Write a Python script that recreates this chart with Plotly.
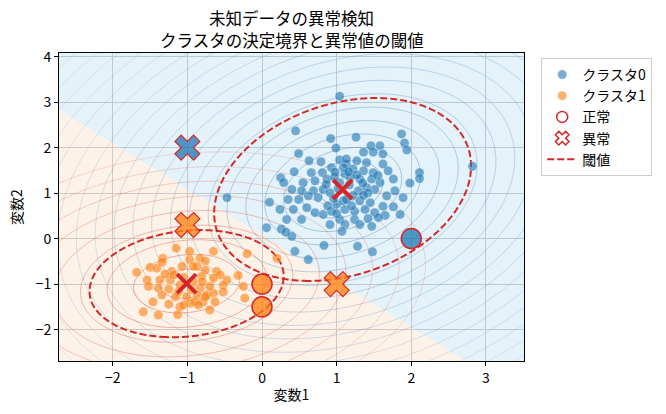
import numpy as np
import plotly.graph_objects as go

# --- samples ---
c0_x = [0.45, 0.92, 0.99, 0.49, 0.63, 0.79, 0.43, 0.66, 0.25, 0.81, 0.93, 1.04, 1.13, 0.29, 0.55,
        0.71, 0.87, 0.40, 0.53, 0.69, 0.82, 0.91, 0.35, 0.49, 0.62, 0.75, 0.10, 0.42, 0.60, 0.71,
        0.82, 0.93, 1.00, 0.24, 0.33, 0.53, 0.91, 1.04, 0.06, 0.26, 0.40, 1.11, 1.04, 1.09, 1.11,
        1.26, 1.87, 1.91, 1.94, 1.46, 1.58, 1.36, 1.49, 1.62, 1.13, 1.27, 1.40, 1.62, 1.09, 1.22,
        1.36, 1.49, 1.69, 1.76, 2.11, 2.11, 1.98, 1.18, 1.31, 1.47, 1.58, 1.51, 1.40, 1.29, 1.67,
        1.78, 1.89, 1.13, 1.31, 1.45, 1.62, 1.76, 1.11, 1.24, 1.38, 1.51, 1.65, 1.85, 1.24, 1.42,
        1.56, 1.31, 1.47, 1.07, 1.04, -0.47, 2.82, 0.32, 0.44, 0.62, 0.83, 1.28, 1.48, 0.97,
        1.02, 1.17, 1.22, 0.96, 1.35, 1.16, 0.98, 1.27, 1.42, 0.86, 1.20, 0.88, 1.00, 1.55, 1.36]
c0_y = [2.37, 2.20, 1.99, 1.87, 1.71, 1.69, 1.47, 1.45, 1.34, 1.45, 1.56, 1.73, 1.64, 1.23, 1.23,
        1.27, 1.31, 1.08, 1.05, 1.05, 1.08, 1.01, 0.86, 0.86, 0.94, 0.90, 0.80, 0.64, 0.68, 0.57,
        0.53, 0.60, 0.75, 0.64, 0.42, 0.42, 0.31, 0.42, 0.24, 0.21, 0.05, 0.31, 1.23, 0.83, 1.42,
        2.23, 2.30, 2.10, 1.95, 2.04, 2.04, 1.90, 1.90, 1.86, 1.75, 1.71, 1.67, 1.64, 1.56, 1.53,
        1.49, 1.45, 1.49, 1.31, 1.45, 1.32, 1.22, 1.34, 1.31, 1.31, 1.23, 1.08, 1.12, 1.05, 0.94,
        1.05, 0.90, 0.86, 0.83, 0.79, 0.71, 0.70, 0.64, 0.60, 0.64, 0.57, 0.51, 0.53, 0.42, 0.44,
        0.46, 0.31, 0.27, 0.16, 3.13, 0.90, 1.59, 0.14, -0.28, -0.46, -0.15, -0.17, -0.29, 1.36,
        1.10, 1.18, 0.95, 0.88, 1.22, 1.47, 1.46, 1.40, 1.00, 1.19, 0.72, 0.72, 0.55, 1.39, 0.95]

c1_x = [-1.15, -0.97, -1.33, -0.97, -0.83, -1.50, -1.41, -1.68, -1.34, -1.21, -1.07, -0.87, -1.54,
        -1.37, -1.23, -1.52, -1.39, -1.25, -1.12, -0.83, -1.34, -1.16, -1.01, -0.87, -1.46, -1.25,
        -1.10, -0.96, -0.79, -1.59, -1.39, -1.13, -0.74, -0.65, -0.20, 0.20, -0.76, -0.92, -0.76,
        -0.61, -0.56, -0.32, -0.81, -0.65, -0.47, -0.52, -0.25, -0.65, -0.52, -0.76, -0.63, -0.23,
        -0.90, -1.05, -0.70, -0.85, -1.05, -0.92, -1.10, -0.95, -0.80, -1.18, -0.70, -1.30]
c1_y = [-0.21, -0.28, -0.43, -0.46, -0.43, -0.63, -0.65, -0.74, -0.52, -0.72, -0.61, -0.61, -0.91,
        -0.91, -0.91, -1.05, -1.09, -1.11, -1.17, -1.09, -1.24, -1.28, -1.28, -1.24, -1.39, -1.44,
        -1.50, -1.42, -1.39, -1.61, -1.68, -1.67, -1.24, -0.28, -0.33, -0.43, -0.49, -0.61, -0.69,
        -0.72, -0.80, -0.81, -0.83, -0.87, -0.91, -1.02, -1.05, -1.20, -1.17, -1.28, -1.39, -1.31,
        -1.39, -1.46, -1.57, -1.46, -0.85, -0.95, -1.02, -1.12, -0.95, -0.80, -1.05, -0.78]

# cluster model
center_x = [1.08, -1.01]
center_y = [1.08, -0.99]
cov_xx = [0.329, 0.188]
cov_xy = [0.099, 0.024]
cov_yy = [0.449, 0.154]
threshold = 3.0

# new (unknown) data
new_x = [2.0, 0.0, 0.0, -1.0, -1.0, 1.0]
new_y = [0.0, -1.0, -1.5, 2.0, 0.3, -1.0]

x_range = [-2.72, 3.51]
y_range = [-2.69, 4.08]

BLUE = "#1f77b4"
ORANGE = "#ff7f0e"
RED = "#d62728"
FONT = "Noto Sans CJK JP"


def mahalanobis(k, x, y):
    dx = np.asarray(x) - center_x[k]
    dy = np.asarray(y) - center_y[k]
    det = cov_xx[k] * cov_yy[k] - cov_xy[k] ** 2
    d2 = (cov_yy[k] * dx**2 - 2 * cov_xy[k] * dx * dy + cov_xx[k] * dy**2) / det
    return np.sqrt(d2)


def nearest(x, y):
    d = [(np.asarray(x) - center_x[k]) ** 2 + (np.asarray(y) - center_y[k]) ** 2 for k in range(2)]
    return np.argmin(d, axis=0)


gx = np.linspace(x_range[0], x_range[1], 400)
gy = np.linspace(y_range[0], y_range[1], 320)
GX, GY = np.meshgrid(gx, gy)

fig = go.Figure()

# decision regions
fig.add_trace(
    go.Heatmap(
        x=gx, y=gy, z=nearest(GX, GY),
        colorscale=[[0, "rgb(210,234,245)"], [1, "rgb(252,234,215)"]],
        zmin=0, zmax=1, showscale=False, opacity=0.6, hoverinfo="skip",
        showlegend=False,
    )
)

# distance rings
ring_styles = [
    (0, 0.5, 14, 0.44, [[0, "rgba(40,100,170,0.55)"], [1, "rgba(130,170,205,0.3)"]]),
    (1, 0.82, 7.4, 0.82, [[0, "rgba(214,39,40,0.6)"], [1, "rgba(225,110,100,0.35)"]]),
]
for k, start, end, size, cs in ring_styles:
    fig.add_trace(
        go.Contour(
            x=gx, y=gy, z=mahalanobis(k, GX, GY),
            contours=dict(start=start, end=end, size=size, coloring="lines"),
            colorscale=cs, zmin=start, zmax=8, zauto=False,
            line=dict(width=0.7), showscale=False, hoverinfo="skip",
            showlegend=False,
        )
    )

# threshold ellipses
for k in range(2):
    fig.add_trace(
        go.Contour(
            x=gx, y=gy, z=mahalanobis(k, GX, GY),
            contours=dict(start=threshold, end=threshold, size=1, coloring="none"),
            line=dict(color=RED, width=2, dash="7px,3px"),
            showscale=False, hoverinfo="skip", showlegend=False,
        )
    )

# cluster samples
fig.add_trace(
    go.Scatter(
        x=c0_x, y=c0_y, mode="markers", name="クラスタ0",
        marker=dict(color=BLUE, size=9.5, opacity=0.6, line=dict(color="white", width=0.5)),
    )
)
fig.add_trace(
    go.Scatter(
        x=c1_x, y=c1_y, mode="markers", name="クラスタ1",
        marker=dict(color=ORANGE, size=9.5, opacity=0.6, line=dict(color="white", width=0.5)),
    )
)

# cluster centers
fig.add_trace(
    go.Scatter(
        x=center_x, y=center_y, mode="markers", showlegend=False,
        marker=dict(symbol="x-thin", size=19, line=dict(width=4, color=RED)),
    )
)

# new data: normal / anomaly
labels = nearest(new_x, new_y)
dist = np.array([mahalanobis(k, x, y) for k, x, y in zip(labels, new_x, new_y)])
fill = np.where(labels == 0, "rgba(31,119,180,0.75)", "rgba(255,127,14,0.75)")
normal = dist <= threshold

fig.add_trace(
    go.Scatter(
        x=np.array(new_x)[normal], y=np.array(new_y)[normal], mode="markers", showlegend=False,
        marker=dict(symbol="circle", size=20, color=fill[normal], line=dict(color=RED, width=1.5)),
    )
)
fig.add_trace(
    go.Scatter(
        x=np.array(new_x)[~normal], y=np.array(new_y)[~normal], mode="markers", showlegend=False,
        marker=dict(symbol="x", size=22, color=fill[~normal], line=dict(color=RED, width=1.2)),
    )
)

# legend-only entries
fig.add_trace(
    go.Scatter(
        x=[None], y=[None], mode="markers", name="正常",
        marker=dict(symbol="circle-open", size=11, color=RED, line=dict(width=1.5)),
    )
)
fig.add_trace(
    go.Scatter(
        x=[None], y=[None], mode="markers", name="異常",
        marker=dict(symbol="x-open", size=12, color=RED, line=dict(width=1.5)),
    )
)
fig.add_trace(
    go.Scatter(
        x=[None], y=[None], mode="lines", name="閾値",
        line=dict(color=RED, width=2, dash="7px,3px"),
    )
)

axis_style = dict(
    showline=True, mirror=True, linecolor="black", linewidth=1,
    ticks="outside", ticklen=4, tickcolor="black",
    showgrid=True, gridcolor="#9a9a9a", gridwidth=0.8, zeroline=False,
    dtick=1, tick0=0, tickfont=dict(size=14, color="black"),
)

fig.update_xaxes(range=x_range, title=dict(text="変数1", font=dict(size=14, color="black"), standoff=4), **axis_style)
fig.update_yaxes(range=y_range, **axis_style)

title_lines = ["未知データの異常検知", "クラスタの決定境界と異常値の閾値"]

fig.update_layout(
    width=666,
    height=414,
    margin=dict(l=59, r=142, t=53, b=53),
    font=dict(family=FONT, size=14, color="black"),
    paper_bgcolor="white",
    plot_bgcolor="white",
    legend=dict(
        x=1.037, y=0.984, xanchor="left", yanchor="top",
        bordercolor="#cccccc", borderwidth=1, bgcolor="white",
        font=dict(size=14),
    ),
    annotations=[
        dict(
            text=title_lines[0],
            x=0.5, xref="paper", xanchor="center",
            y=1, yref="paper", yanchor="middle", yshift=35,
            showarrow=False, font=dict(size=16.5, color="black"),
        ),
        dict(
            text=title_lines[1],
            x=0.5, xref="paper", xanchor="center",
            y=1, yref="paper", yanchor="middle", yshift=13,
            showarrow=False, font=dict(size=16.5, color="black"),
        ),
        dict(
            text="変数2", textangle=-90,
            x=-0.0925, xref="paper", xanchor="center",
            y=0.5, yref="paper", yanchor="middle",
            showarrow=False, font=dict(size=14, color="black"),
        ),
    ],
)

fig.write_html(
    "out.html",
    config={"displayModeBar": False},
    post_script="document.body.style.margin='0px';",
)
